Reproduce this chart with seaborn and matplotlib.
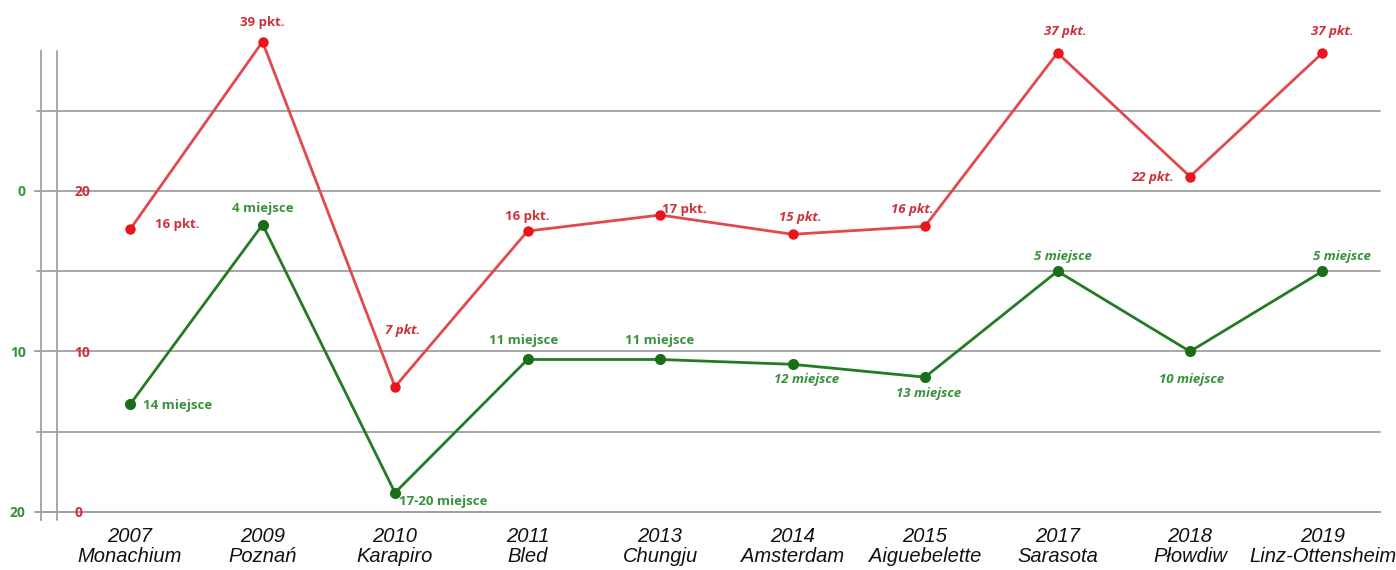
import matplotlib
matplotlib.use('Agg')
import matplotlib.pyplot as plt
import seaborn as sns
import numpy as np
import pandas as pd

# ---------------- data ----------------
years = ['2007', '2009', '2010', '2011', '2013', '2014', '2015', '2017', '2018', '2019']
cities = ['Monachium', 'Poznań', 'Karapiro', 'Bled', 'Chungju', 'Amsterdam',
          'Aiguebelette', 'Sarasota', 'Płowdiw', 'Linz-Ottensheim']
points_labels = ['16 pkt.', '39 pkt.', '7 pkt.', '16 pkt.', '17 pkt.', '15 pkt.',
                 '16 pkt.', '37 pkt.', '22 pkt.', '37 pkt.']
points_read = [17.6, 29.3, 7.8, 17.5, 18.5, 17.3, 17.8, 28.6, 20.9, 28.6]
place_labels = ['14 miejsce', '4 miejsce', '17-20 miejsce', '11 miejsce', '11 miejsce',
                '12 miejsce', '13 miejsce', '5 miejsce', '10 miejsce', '5 miejsce']
place_read = [13.3, 2.1, 18.8, 10.5, 10.5, 10.8, 11.6, 5.0, 10.0, 5.0]
place_ticks = [0, 10, 20]
points_ticks = [20, 10, 0]

# ---------------- style ----------------
sns.set_style('white')
plt.rcParams['font.family'] = ['Open Sans', 'DejaVu Sans']

RED_LINE = '#e1494d'
RED_MARK = '#e8161c'
RED_TXT = '#cf3038'
GREEN_LINE = '#237b23'
GREEN_MARK = '#1a6e1a'
GREEN_TXT = '#37923a'
GRID = '#a0a0a0'

W, H = 1396, 570
fig = plt.figure(figsize=(W / 100, H / 100), dpi=100)
fig.patch.set_facecolor('white')
ax = fig.add_axes([41 / W, 50 / H, (1380 - 41) / W, (520 - 51) / H])
ax.set_facecolor('white')

x = np.arange(len(years))
df = pd.DataFrame({'x': x, 'points': points_read, 'place': place_read})

ax.set_xlim(-0.672, 9.434)
ax.set_ylim(20.5, -8.72)

ax2 = ax.twinx()
ax2.set_ylim(-0.5, 28.72)

# grid lines (extend slightly left of the green axis)
for r in [-5, 0, 5, 10, 15, 20]:
    ax.axhline(r, xmin=-4 / 1339, xmax=1, color=GRID, lw=1.3, clip_on=False, zorder=1)
# red axis line
ax.axvline(-0.551, color=GRID, lw=1.3, zorder=1)

for s in ['top', 'right']:
    ax.spines[s].set_visible(False)
ax.spines['left'].set_color(GRID)
ax.spines['left'].set_linewidth(1.3)
ax.spines['bottom'].set_position(('data', 20))
ax.spines['bottom'].set_color(GRID)
ax.spines['bottom'].set_linewidth(1.3)
for s in ax2.spines.values():
    s.set_visible(False)

# green (place) axis
ax.set_yticks(place_ticks)
ax.set_yticklabels([str(t) for t in place_ticks], color=GREEN_TXT, fontsize=10, fontweight='bold')
ax.tick_params(axis='y', length=5, width=1.2, color=GRID, pad=6)

# red (points) axis, labels just right of the red axis line
ax2.set_yticks(points_ticks)
ax2.set_yticklabels([str(t) for t in points_ticks], color=RED_TXT, fontsize=10, fontweight='bold')
ax2.yaxis.set_ticks_position('left')
ax2.tick_params(axis='y', length=0, pad=-24)
for lab in ax2.get_yticklabels():
    lab.set_horizontalalignment('left')

# x axis
ax.set_xticks(x)
ax.set_xticklabels([f'{y}\n{c}' for y, c in zip(years, cities)],
                   family=['Liberation Sans'], style='italic',
                   fontsize=14.5, color='#111111', linespacing=1.05)
ax.tick_params(axis='x', which='major', length=0, pad=11)
ax.set_xticks(np.arange(0.5, 9.0, 1.0), minor=True)
ax.tick_params(axis='x', which='minor', length=6, width=1.2, color=GRID)
ax2.set_xlim(ax.get_xlim())

# lines
sns.lineplot(data=df, x='x', y='points', ax=ax2, color=RED_LINE, lw=2.0,
             marker='o', markersize=7.5, markerfacecolor=RED_MARK, markeredgewidth=0,
             zorder=3)
sns.lineplot(data=df, x='x', y='place', ax=ax, color=GREEN_LINE, lw=2.0,
             marker='o', markersize=8, markerfacecolor=GREEN_MARK, markeredgewidth=0,
             zorder=3)
for a in (ax, ax2):
    for ln in a.lines:
        ln.set_clip_on(False)
ax.set_xlabel('')
ax.set_ylabel('')
ax2.set_xlabel('')
ax2.set_ylabel('')

# label placement (offset in pixels, alignment, italic)
red_fmt = [(25, 5, 'left', False), (0, 19, 'center', False), (8, 56, 'center', True),
           (0, 15, 'center', False), (2, 6, 'left', False), (8, 17, 'center', True),
           (-13, 17, 'center', True), (8, 21, 'center', True), (-16, -1, 'right', True),
           (10, 21, 'center', True)]
green_fmt = [(13, -1, 'left', False), (0, 16, 'center', False), (4, -9, 'left', False),
             (-4, 19, 'center', False), (0, 19, 'center', False), (14, -15, 'center', True),
             (4, -16, 'center', True), (5, 15, 'center', True), (2, -28, 'center', True),
             (19, 15, 'center', True)]

for xi, v, lab, (dx, dy, ha, it) in zip(x, points_read, points_labels, red_fmt):
    ax2.annotate(lab, (xi, v), xytext=(dx, dy), textcoords='offset pixels',
                 ha=ha, va='center', color=RED_TXT, fontsize=9.5, fontweight='bold',
                 style='italic' if it else 'normal', zorder=4, annotation_clip=False)
for xi, v, lab, (dx, dy, ha, it) in zip(x, place_read, place_labels, green_fmt):
    ax.annotate(lab, (xi, v), xytext=(dx, dy), textcoords='offset pixels',
                ha=ha, va='center', color=GREEN_TXT, fontsize=9.5, fontweight='bold',
                style='italic' if it else 'normal', zorder=4, annotation_clip=False)

ax.set_zorder(2)
ax2.set_zorder(3)
ax.patch.set_visible(True)
ax2.patch.set_visible(False)

fig.savefig('out.png', dpi=100, facecolor='white')
